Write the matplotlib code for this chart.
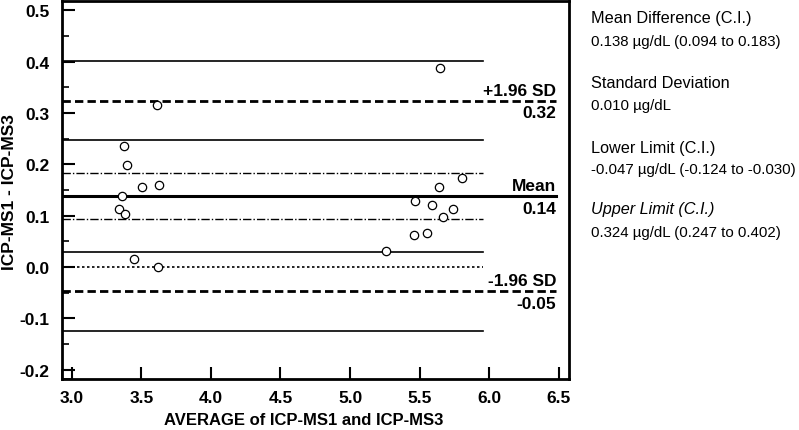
import matplotlib
matplotlib.use("Agg")
import matplotlib.pyplot as plt
from matplotlib.patches import Rectangle
from matplotlib.ticker import MultipleLocator, FormatStrFormatter

plt.rcParams['font.family'] = ['Liberation Sans', 'DejaVu Sans']

# averages and differences
avg = [3.376, 3.397, 3.503, 3.629, 3.615, 3.361, 3.342, 3.383, 3.450, 3.618,
       5.646, 5.806, 5.641, 5.464, 5.586, 5.737, 5.667, 5.461, 5.552, 5.260]
diff = [0.236, 0.198, 0.155, 0.160, 0.316, 0.139, 0.113, 0.103, 0.016, 0.000,
        0.388, 0.173, 0.155, 0.129, 0.121, 0.113, 0.097, 0.063, 0.066, 0.031]

mean_d, mean_lo, mean_hi = 0.138, 0.094, 0.183
low, low_lo, low_hi = -0.047, -0.124, -0.030
up, up_lo, up_hi = 0.324, 0.247, 0.402
sd = 0.010
# thin CI lines as they sit in the picture
ci_solid = [0.402, 0.247, 0.030, -0.124]
ci_dashdot = [0.183, 0.094]

xmin, xmax = 2.930, 6.573
ymin, ymax = -0.2183, 0.5185
x_end = 5.955   # CI lines stop here
x_lab = 6.48    # limit lines and labels stop here

fig = plt.figure(figsize=(7.99, 4.31), dpi=100)
ax = fig.add_axes([62/799, 1-380/431, 507/799, 378/431])
ax.set_xlim(xmin, xmax)
ax.set_ylim(ymin, ymax)

for v in ci_solid:
    ax.plot([xmin, x_end], [v, v], color='black', lw=1.2)
for v in ci_dashdot:
    ax.plot([xmin, x_end], [v, v], color='black', lw=1.0, ls=(0, (6, 1.5, 1, 1.5)))
ax.plot([xmin, x_end], [0, 0], color='black', lw=1.2, ls=(0, (1.5, 1.5)))

# mean and limits of agreement
ax.plot([xmin, x_lab], [mean_d, mean_d], color='black', lw=2.2)
for v in [up, low]:
    ax.plot([xmin, x_lab], [v, v], color='black', lw=2.0, ls=(0, (3, 1.5)))

ax.scatter(avg, diff, s=36, facecolors='white', edgecolors='black', linewidths=0.9, zorder=3)

lab = dict(ha='right', fontsize=12.5, fontweight='bold')
ax.text(x_lab, up + 0.006, '+1.96 SD', va='bottom', **lab)
ax.text(x_lab, up - 0.009, '%.2f' % up, va='top', **lab)
ax.text(x_lab, mean_d + 0.006, 'Mean', va='bottom', **lab)
ax.text(x_lab, mean_d - 0.009, '%.2f' % mean_d, va='top', **lab)
ax.text(x_lab, low + 0.006, '-1.96 SD', va='bottom', **lab)
ax.text(x_lab, low - 0.009, '%.2f' % low, va='top', **lab)

# little box in the corner
ax.add_patch(Rectangle((xmin, ymin), 3.0 - xmin, -0.2 - ymin, fill=False,
                       edgecolor='black', lw=1.2, clip_on=False))

ax.set_xticks([3.0, 3.5, 4.0, 4.5, 5.0, 5.5, 6.0, 6.5])
ax.set_yticks([-0.2, -0.1, 0.0, 0.1, 0.2, 0.3, 0.4, 0.5])
ax.yaxis.set_minor_locator(MultipleLocator(0.05))
ax.xaxis.set_major_formatter(FormatStrFormatter('%.1f'))
ax.yaxis.set_major_formatter(FormatStrFormatter('%.1f'))
ax.tick_params(axis='both', which='major', direction='in', length=9, width=1.5,
               labelsize=12.5)
ax.tick_params(axis='x', which='major', pad=8)
ax.tick_params(axis='y', which='major', pad=9)
ax.tick_params(axis='y', which='minor', direction='in', length=5, width=1.2)
for t in ax.get_xticklabels() + ax.get_yticklabels():
    t.set_fontweight('bold')
for s in ax.spines.values():
    s.set_linewidth(2.0)

ax.set_xlabel('AVERAGE of ICP-MS1 and ICP-MS3', fontsize=12, fontweight='bold', va='center')
ax.set_ylabel('ICP-MS1 - ICP-MS3', fontsize=12.5, fontweight='bold', va='center')
ax.xaxis.set_label_coords(0.477, -0.108)
ax.yaxis.set_label_coords(-0.104, 0.497)

# summary text on the right
tx = 591/799
rows = [
    ('Mean Difference (C.I.)', 18, 'normal', 11.7),
    ('%.3f \u00b5g/dL (%.3f to %.3f)' % (mean_d, mean_lo, mean_hi), 42, 'normal', 10.8),
    ('Standard Deviation', 83, 'normal', 11.7),
    ('%.3f \u00b5g/dL' % sd, 106, 'normal', 10.8),
    ('Lower Limit (C.I.)', 148, 'normal', 11.7),
    ('%.3f \u00b5g/dL (%.3f to %.3f)' % (low, low_lo, low_hi), 170, 'normal', 10.8),
    ('Upper Limit (C.I.)', 210, 'italic', 11.7),
    ('%.3f \u00b5g/dL (%.3f to %.3f)' % (up, up_lo, up_hi), 233, 'normal', 10.8),
]
for s, py, st, fs in rows:
    fig.text(tx, 1 - py/431, s, fontsize=fs, style=st, va='center', ha='left')

fig.savefig('out.png', dpi=100)
